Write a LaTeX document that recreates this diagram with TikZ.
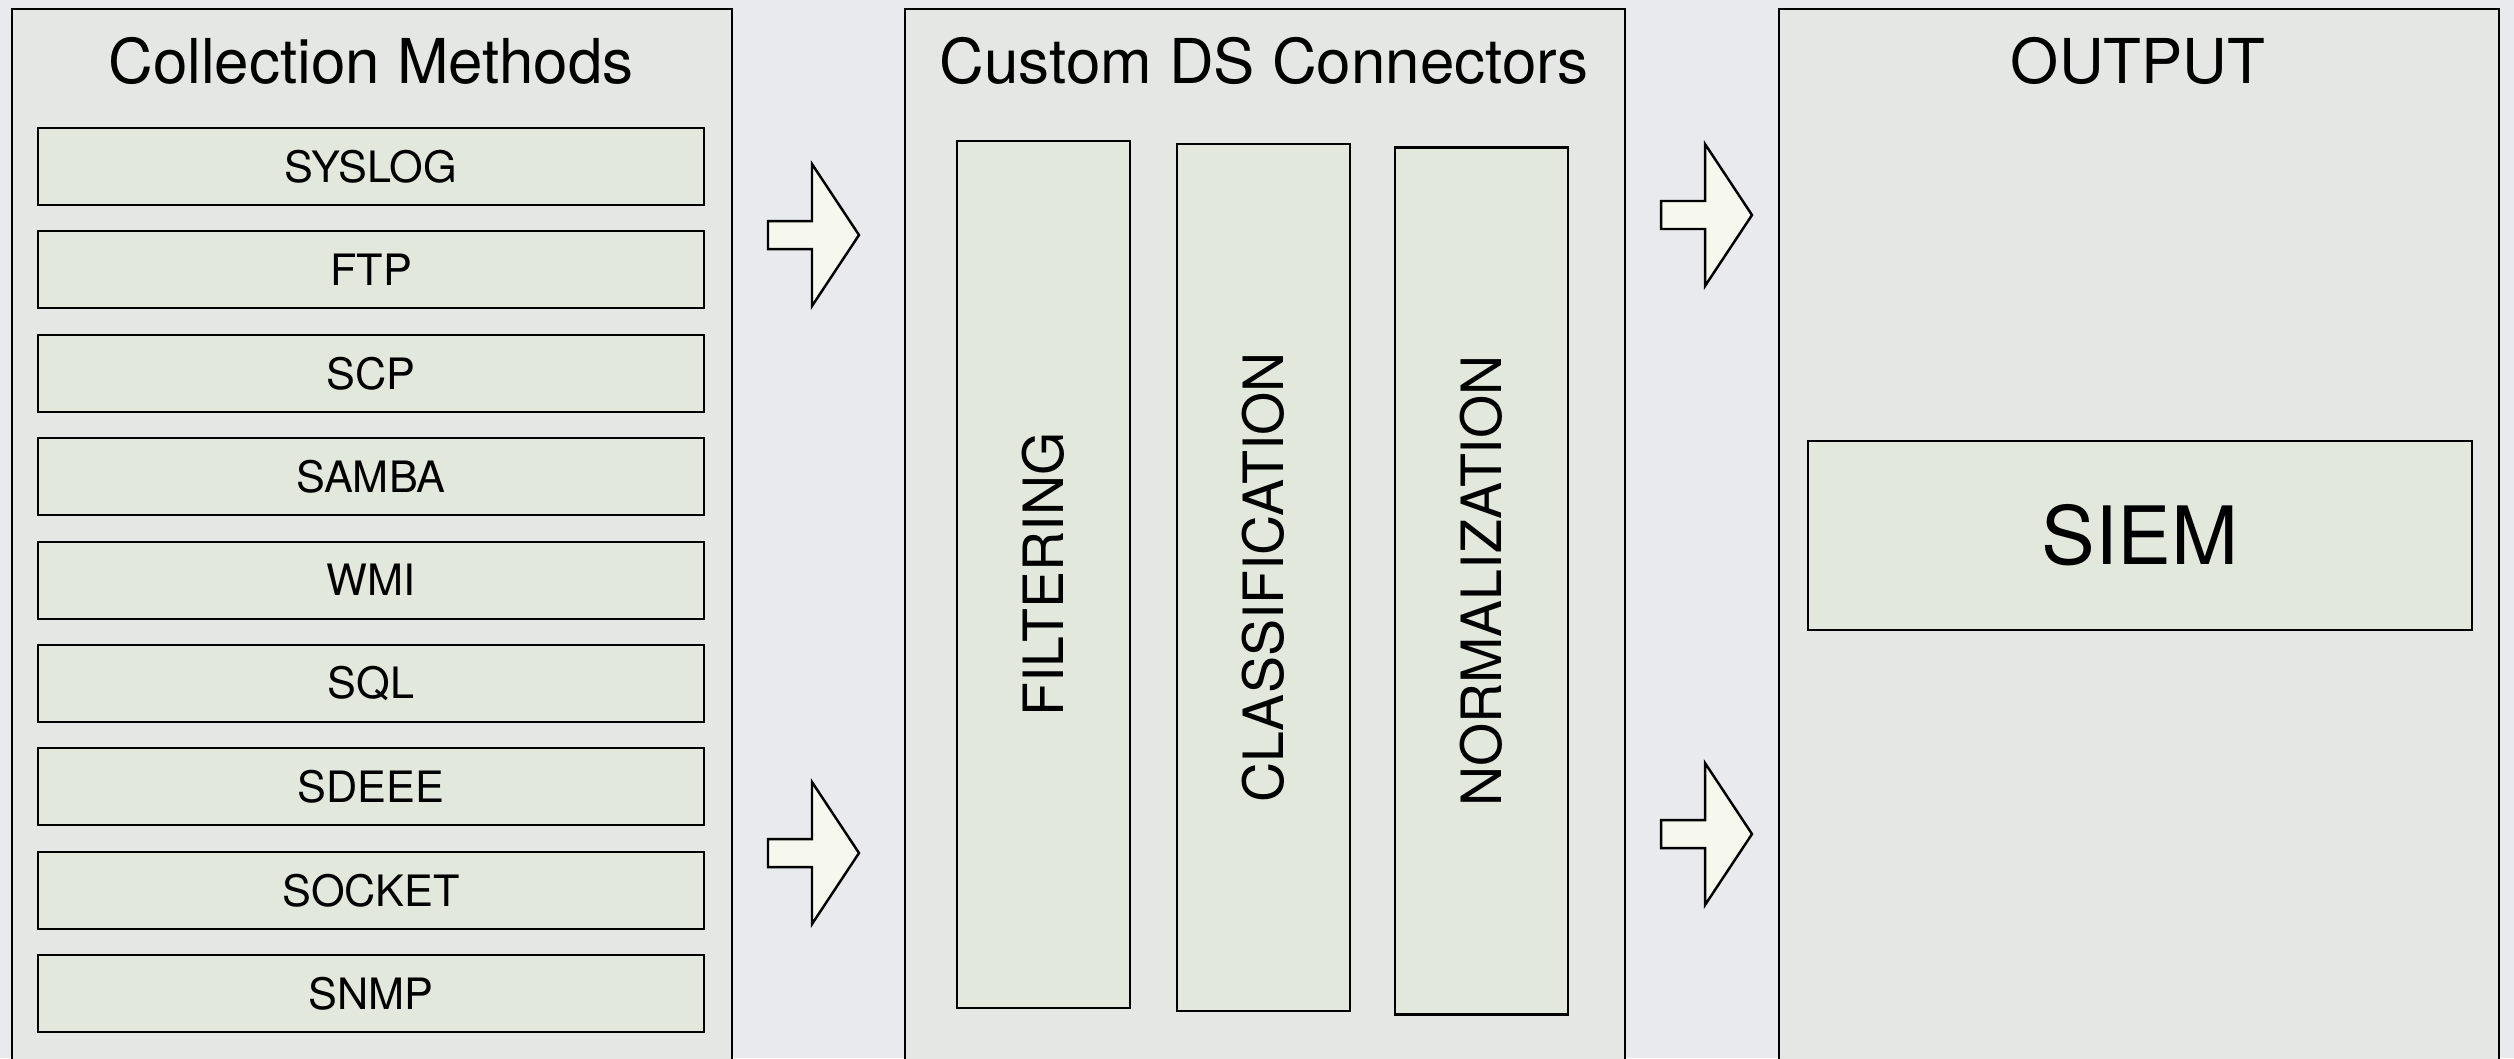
\documentclass[tikz,border=0pt]{standalone}
\usepackage{fontspec}
\setmainfont{TeX Gyre Heros}
\usetikzlibrary{positioning,calc}
\definecolor{dsBack}{HTML}{E9EAEE}
\definecolor{dsPanel}{HTML}{E4E7E3}
\definecolor{dsItem}{HTML}{E3E8DC}
\definecolor{dsArrow}{HTML}{F6F8EE}
\tikzset{
  panel/.style={
    draw, fill=dsPanel, line width=0.6pt, anchor=north west,
    minimum width=72mm, minimum height=120mm, inner sep=0pt
  },
  paneltitle/.style={font=\fontsize{17.6}{20}\selectfont, anchor=base, inner sep=0pt},
  method/.style={
    draw, fill=dsItem, line width=0.6pt, inner sep=0pt,
    minimum width=66.6mm, minimum height=7.7mm, font=\fontsize{12.3}{14}\selectfont
  },
  stagebox/.style={
    draw, fill=dsItem, line width=0.6pt, inner sep=0pt, rotate=90,
    minimum width=86.7mm, minimum height=17.3mm, font=\fontsize{15.8}{18}\selectfont
  },
  sink/.style={
    draw, fill=dsItem, line width=0.6pt, inner sep=0pt,
    minimum width=66.4mm, minimum height=18.9mm, font=\fontsize{22.9}{26}\selectfont
  },
  % block arrow, origin at the tail's middle
  flowarrow/.pic={
    \draw[fill=dsArrow, line width=0.7pt, line join=miter]
      (0,-0.14) -- (0.44,-0.14) -- (0.44,-0.71) -- (0.91,0)
      -- (0.44,0.71) -- (0.44,0.14) -- (0,0.14) -- cycle;
  }
}
\begin{document}
\begin{tikzpicture}
  \fill[dsBack] (0,0) rectangle (25.14,-10.58);
  \useasboundingbox (0,0) rectangle (25.14,-10.58);
  \clip (0,0) rectangle (25.14,-10.58);

  % the three columns
  \node[panel] (collect) at (0.11,-0.08) {};
  \node[panel] (connect) at (9.04,-0.08) {};
  \node[panel] (output) at (17.78,-0.08) {};
  \node[paneltitle] (collectT) at (3.71,-0.83) {Collection Methods};
  \node[paneltitle] (connectT) at (12.64,-0.83) {Custom DS Connectors};
  \node[paneltitle] (outputT) at (21.38,-0.83) {OUTPUT};

  % collection methods
  \foreach \proto [count=\i] in {SYSLOG,FTP,SCP,SAMBA,WMI,SQL,SDEEE,SOCKET,SNMP}
    \node[method] (m\i) at (3.71,{-1.665-1.034*(\i-1)}) {\proto};

  % connector stages
  \node[stagebox] (filter) at (10.435,-5.745) {FILTERING};
  \node[stagebox] (classify) at (12.635,-5.775) {CLASSIFICATION};
  \node[stagebox] (normal) at (14.815,-5.81) {NORMALIZATION};

  % output
  \node[sink] (siem) at (21.40,-5.355) {SIEM};

  % flow between columns
  \pic at (7.68,-2.35) {flowarrow};
  \pic at (7.68,-8.53) {flowarrow};
  \pic at (16.61,-2.15) {flowarrow};
  \pic at (16.61,-8.34) {flowarrow};
\end{tikzpicture}
\end{document}
